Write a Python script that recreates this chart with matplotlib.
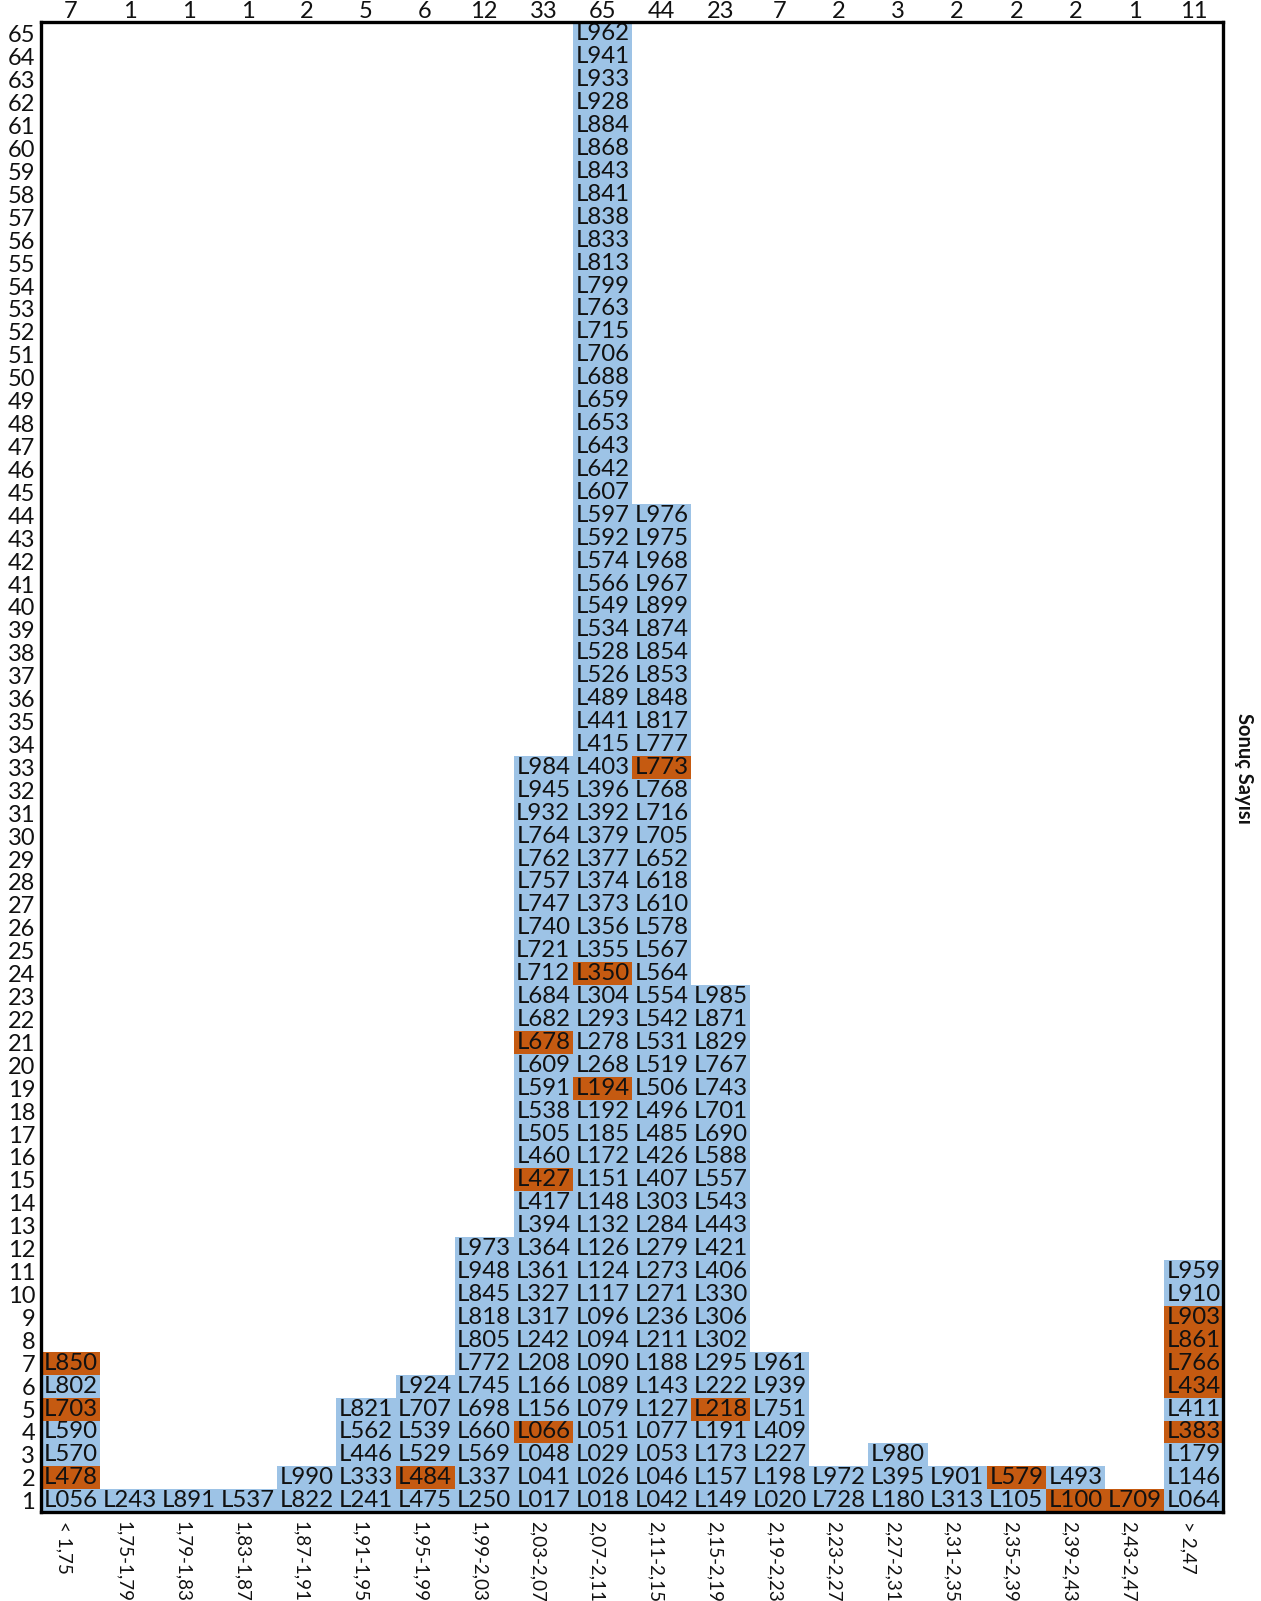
import matplotlib
matplotlib.use("Agg")
import matplotlib.pyplot as plt
import matplotlib.transforms as mtransforms
import numpy as np

plt.rcParams["font.family"] = ["Lato", "DejaVu Sans"]

# Bin labels along the bottom axis
bins = ["< 1,75", "1,75-1,79", "1,79-1,83", "1,83-1,87", "1,87-1,91",
        "1,91-1,95", "1,95-1,99", "1,99-2,03", "2,03-2,07", "2,07-2,11",
        "2,11-2,15", "2,15-2,19", "2,19-2,23", "2,23-2,27", "2,27-2,31",
        "2,31-2,35", "2,35-2,39", "2,39-2,43", "2,43-2,47", "> 2,47"]

# Number of results per bin (shown above the frame)
counts = [7, 1, 1, 1, 2, 5, 6, 12, 33, 65, 44, 23, 7, 2, 3, 2, 2, 2, 1, 11]

# Lab codes stacked in each bin, bottom to top
codes_lt175 = ["L056", "L478", "L570", "L590", "L703", "L802", "L850"]
codes_175 = ["L243"]
codes_179 = ["L891"]
codes_183 = ["L537"]
codes_187 = ["L822", "L990"]
codes_191 = ["L241", "L333", "L446", "L562", "L821"]
codes_195 = ["L475", "L484", "L529", "L539", "L707", "L924"]
codes_199 = ["L250", "L337", "L569", "L660", "L698", "L745", "L772", "L805",
             "L818", "L845", "L948", "L973"]
codes_203 = ["L017", "L041", "L048", "L066", "L156", "L166", "L208", "L242",
             "L317", "L327", "L361", "L364", "L394", "L417", "L427", "L460",
             "L505", "L538", "L591", "L609", "L678", "L682", "L684", "L712",
             "L721", "L740", "L747", "L757", "L762", "L764", "L932", "L945",
             "L984"]
codes_207 = ["L018", "L026", "L029", "L051", "L079", "L089", "L090", "L094",
             "L096", "L117", "L124", "L126", "L132", "L148", "L151", "L172",
             "L185", "L192", "L194", "L268", "L278", "L293", "L304", "L350",
             "L355", "L356", "L373", "L374", "L377", "L379", "L392", "L396",
             "L403", "L415", "L441", "L489", "L526", "L528", "L534", "L549",
             "L566", "L574", "L592", "L597", "L607", "L642", "L643", "L653",
             "L659", "L688", "L706", "L715", "L763", "L799", "L813", "L833",
             "L838", "L841", "L843", "L868", "L884", "L928", "L933", "L941",
             "L962"]
codes_211 = ["L042", "L046", "L053", "L077", "L127", "L143", "L188", "L211",
             "L236", "L271", "L273", "L279", "L284", "L303", "L407", "L426",
             "L485", "L496", "L506", "L519", "L531", "L542", "L554", "L564",
             "L567", "L578", "L610", "L618", "L652", "L705", "L716", "L768",
             "L773", "L777", "L817", "L848", "L853", "L854", "L874", "L899",
             "L967", "L968", "L975", "L976"]
codes_215 = ["L149", "L157", "L173", "L191", "L218", "L222", "L295", "L302",
             "L306", "L330", "L406", "L421", "L443", "L543", "L557", "L588",
             "L690", "L701", "L743", "L767", "L829", "L871", "L985"]
codes_219 = ["L020", "L198", "L227", "L409", "L751", "L939", "L961"]
codes_223 = ["L728", "L972"]
codes_227 = ["L180", "L395", "L980"]
codes_231 = ["L313", "L901"]
codes_235 = ["L105", "L579"]
codes_239 = ["L100", "L493"]
codes_243 = ["L709"]
codes_gt247 = ["L064", "L146", "L179", "L383", "L411", "L434", "L766", "L861",
               "L903", "L910", "L959"]

# Results flagged in orange
flagged = ["L478", "L703", "L850", "L484", "L066", "L427", "L678", "L194",
           "L350", "L773", "L218", "L579", "L100", "L709", "L383", "L434",
           "L766", "L861", "L903"]

columns = [codes_lt175, codes_175, codes_179, codes_183, codes_187, codes_191,
           codes_195, codes_199, codes_203, codes_207, codes_211, codes_215,
           codes_219, codes_223, codes_227, codes_231, codes_235, codes_239,
           codes_243, codes_gt247]

BLUE = "#9dc3e6"
ORANGE = "#c55a11"
INK = "#111111"

W, H = 1261, 1601
fig = plt.figure(figsize=(W / 100, H / 100), dpi=100)
left, right, top, bottom = 40.8, 1223.2, 22.5, 1512.2
ax = fig.add_axes([left / W, 1 - bottom / H, (right - left) / W, (bottom - top) / H])

ymax = max(counts)
for i, (codes, n) in enumerate(zip(columns, counts)):
    rows = np.arange(1, n + 1)
    colors = [ORANGE if c in flagged else BLUE for c in codes[:n]]
    ax.bar(np.full(n, i), np.ones(n), bottom=rows - 0.5, width=1.0,
           color=colors, linewidth=0, zorder=1)
    for r, c in zip(rows, codes[:n]):
        ax.text(i, r, c, ha="center", va="center", fontsize=17.3,
                color=INK, zorder=2, clip_on=True)
    ax.annotate(str(n), xy=(i, 1), xycoords=("data", "axes fraction"),
                xytext=(0, 0.5), textcoords="offset points",
                ha="center", va="bottom", fontsize=17, color=INK)

ax.set_xlim(-0.5, len(bins) - 0.5)
ax.set_ylim(0.5, ymax + 0.5)
ax.set_xticks(np.arange(len(bins)))
ax.set_xticklabels(bins, rotation=270, fontsize=13.6, color=INK)
ax.set_yticks(np.arange(1, ymax + 1))
ax.set_yticklabels([str(v) for v in range(1, ymax + 1)], fontsize=17,
                   color=INK)
ax.tick_params(axis="both", length=0)
ax.tick_params(axis="x", pad=6)
ax.tick_params(axis="y", pad=4)

# Bottom labels sit slightly left of the column centres
shift = mtransforms.ScaledTranslation(-6 / 100, 0, fig.dpi_scale_trans)
for lbl in ax.get_xticklabels():
    lbl.set_transform(lbl.get_transform() + shift)

for s in ax.spines.values():
    s.set_linewidth(2.4)
    s.set_color("black")
    s.set_zorder(3)

fig.text(1243.6 / W, 0.52, "Sonuç Sayısı", rotation=270, ha="center",
         va="center", fontsize=14.5, fontweight="bold", color=INK)

fig.savefig("out.png", dpi=100, facecolor="white")
